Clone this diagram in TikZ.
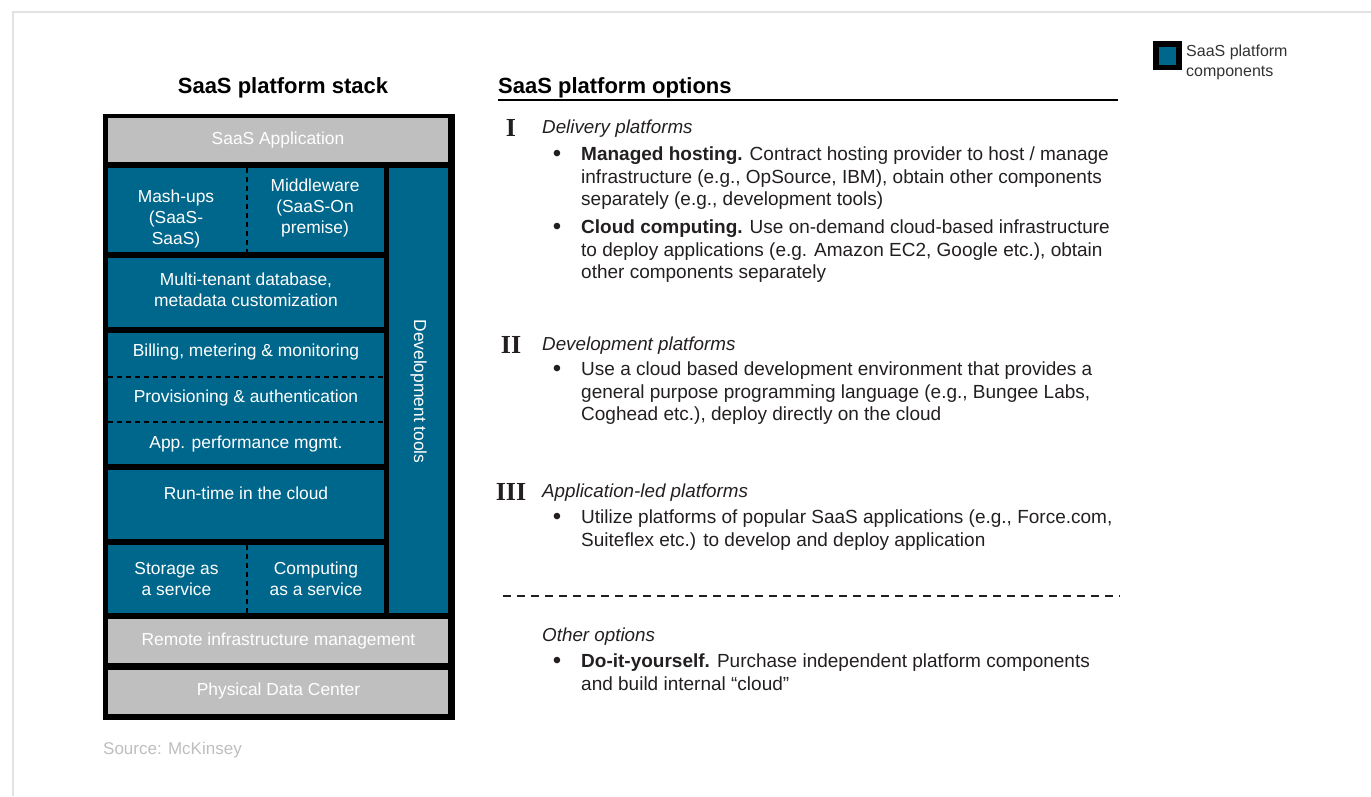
\documentclass[tikz,border=0pt]{standalone}
\usepackage{fontspec}
\setmainfont{Liberation Sans}
\newfontfamily\numfont{Liberation Serif}
\definecolor{saasblue}{RGB}{0,103,140}
\definecolor{layergray}{RGB}{191,191,191}
\definecolor{framegray}{RGB}{226,226,226}
\definecolor{srcgray}{RGB}{190,190,190}
\definecolor{bodytxt}{RGB}{35,31,32}
\definecolor{legtxt}{RGB}{50,50,50}
\tikzset{
  cellbase/.style={draw=none, inner sep=0pt, outer sep=0pt, anchor=north west},
  bluecell/.style={cellbase, fill=saasblue},
  graycell/.style={cellbase, fill=layergray},
  celltext/.style={text=white, font=\fontsize{17.4}{21}\selectfont, align=center, inner sep=0pt},
  sepline/.style={black, line width=1.8pt, dash pattern=on 5pt off 4pt},
  headtext/.style={font=\fontsize{22}{26}\selectfont\bfseries, inner sep=0pt, text=black},
  bodytext/.style={font=\fontsize{19}{22.6}\selectfont, text=bodytxt, align=left, inner sep=0pt, anchor=base west},
  bulletmark/.style={font=\fontsize{24}{24}\selectfont, text=bodytxt, inner sep=0pt, anchor=base},
  catname/.style={font=\fontsize{18.8}{22.6}\selectfont\itshape, text=bodytxt, inner sep=0pt, anchor=base west},
  numeral/.style={font=\fontsize{26}{26}\selectfont\numfont\bfseries, text=bodytxt, inner sep=0pt, anchor=base},
}
\begin{document}
\begin{tikzpicture}[x=1pt,y=-1pt]
\useasboundingbox (0,0) rectangle (1371,796);
% frame
\draw[framegray, line width=1.2pt] (13,796) -- (13,12) -- (1371,12);

% headings
\node[headtext, anchor=base] (hstack) at (283,93) {SaaS platform stack};
\node[headtext, anchor=base west] (hopt) at (498,93) {SaaS platform options};
\coordinate (ulA) at (498,100);
\coordinate (ulB) at (1118,100);
\draw[black, line width=1.5pt] (ulA) -- (ulB);

% stack
\node[cellbase, fill=black, minimum width=352pt, minimum height=606pt] (stack) at (103,114) {};
\node[graycell, minimum width=340pt, minimum height=44pt] (app) at (108,118) {};
\node[bluecell, minimum width=139pt, minimum height=84pt] (mash) at (108,168) {};
\node[bluecell, minimum width=137pt, minimum height=84pt] (mid) at (247,168) {};
\node[bluecell, minimum width=59pt, minimum height=445pt] (dev) at (389,168) {};
\node[bluecell, minimum width=276pt, minimum height=69pt] (multi) at (108,258) {};
\node[bluecell, minimum width=276pt, minimum height=44pt] (bill) at (108,333) {};
\node[bluecell, minimum width=276pt, minimum height=45pt] (prov) at (108,377) {};
\node[bluecell, minimum width=276pt, minimum height=42pt] (apm) at (108,422) {};
\node[bluecell, minimum width=276pt, minimum height=69pt] (run) at (108,470) {};
\node[bluecell, minimum width=139pt, minimum height=68pt] (stor) at (108,545) {};
\node[bluecell, minimum width=137pt, minimum height=68pt] (comp) at (247,545) {};
\node[graycell, minimum width=340pt, minimum height=44pt] (remote) at (108,619) {};
\node[graycell, minimum width=340pt, minimum height=44pt] (phys) at (108,670) {};

\draw[sepline] (mid.north west) -- (mid.south west);
\draw[sepline] (prov.north west) -- (prov.north east);
\draw[sepline] (apm.north west) -- (apm.north east);
\draw[sepline] (comp.north west) -- (comp.south west);

\node[celltext] (tapp) at (278,140) {SaaS Application};
\node[celltext] (tmash) at (176,219) {Mash-ups\\(SaaS-\\SaaS)};
\node[celltext] (tmid) at (315,208) {Middleware\\(SaaS-On\\premise)};
\node[celltext] (tmulti) at (246,290) {Multi-tenant database,\\metadata customization};
\node[celltext] (tbill) at (246,352) {Billing, metering \& monitoring};
\node[celltext] (tprov) at (246,398) {Provisioning \& authentication};
\node[celltext] (tapm) at (246,444) {App. performance mgmt.};
\node[celltext] (trun) at (246,493) {Run-time in the cloud};
\node[celltext] (tstor) at (176.5,578.5) {Storage as\\a service};
\node[celltext] (tcomp) at (316,578.5) {Computing\\as a service};
\node[celltext] (tremote) at (278.5,641) {Remote infrastructure management};
\node[celltext] (tphys) at (278.5,691) {Physical Data Center};
\node[celltext, rotate=-90] (tdev) at (418.5,391.5) {Development tools};

\node[font=\fontsize{17}{20}\selectfont, text=srcgray, inner sep=0pt, anchor=base west] (src) at (103,754) {Source: McKinsey};

% legend
\node[cellbase, fill=black, minimum width=29pt, minimum height=29pt] (legbox) at (1153,41) {};
\node[draw=none, fill=saasblue, inner sep=0pt, minimum width=17pt, minimum height=18pt] (legin) at (legbox.center) {};
\node[font=\fontsize{16}{20}\selectfont, text=legtxt, align=left, inner sep=0pt, anchor=base west] (legtext) at (1186,76.5) {SaaS platform\\components};

% options
\node[numeral] (n1) at (511,136) {I};
\node[catname] (c1) at (542,133.5) {Delivery platforms};
\node[bulletmark] (b11) at (557,161) {•};
\node[bodytext] (t11) at (581,205.9) {\textbf{Managed hosting.} Contract hosting provider to host / manage\\infrastructure (e.g., OpSource, IBM), obtain other components\\separately (e.g., development tools)};
\node[bulletmark] (b12) at (557,234) {•};
\node[bodytext] (t12) at (581,278.7) {\textbf{Cloud computing.} Use on-demand cloud-based infrastructure\\to deploy applications (e.g. Amazon EC2, Google etc.), obtain\\other components separately};

\node[numeral] (n2) at (511,353) {II};
\node[catname] (c2) at (542,350.5) {Development platforms};
\node[bulletmark] (b21) at (557,376) {•};
\node[bodytext] (t21) at (581,420.7) {Use a cloud based development environment that provides a\\general purpose programming language (e.g., Bungee Labs,\\Coghead etc.), deploy directly on the cloud};

\node[numeral] (n3) at (511,500) {III};
\node[catname] (c3) at (542,497.5) {Application-led platforms};
\node[bulletmark] (b31) at (557,524) {•};
\node[bodytext] (t31) at (581,546.1) {Utilize platforms of popular SaaS applications (e.g., Force.com,\\Suiteflex etc.) to develop and deploy application};

\coordinate (dsA) at (503,596);
\coordinate (dsB) at (1120,596);
\draw[bodytxt, line width=1.5pt, dash pattern=on 8pt off 6pt] (dsA) -- (dsB);

\node[catname] (c4) at (542,641.5) {Other options};
\node[bulletmark] (b41) at (557,668) {•};
\node[bodytext] (t41) at (581,690.1) {\textbf{Do-it-yourself.} Purchase independent platform components\\and build internal “cloud”};
\end{tikzpicture}
\end{document}
